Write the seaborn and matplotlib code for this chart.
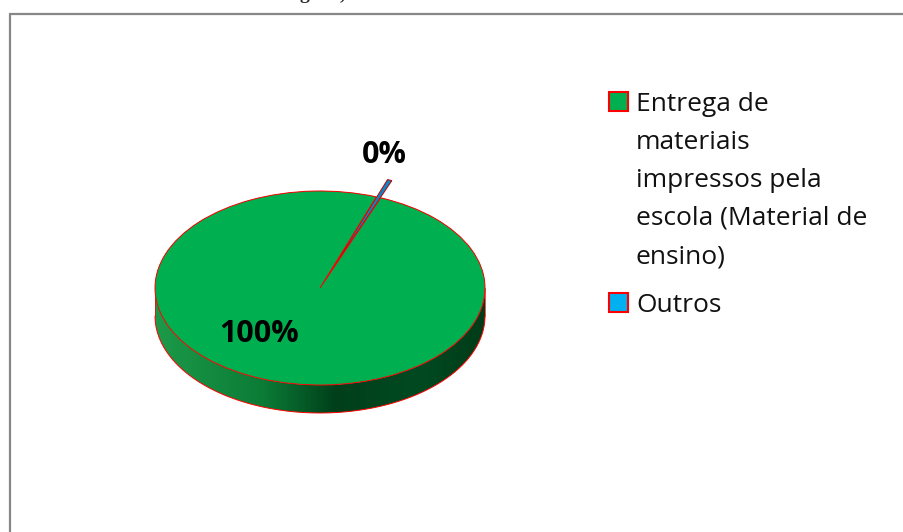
import numpy as np
import matplotlib
matplotlib.use("Agg")
import matplotlib.pyplot as plt
import seaborn as sns
from matplotlib.colors import LinearSegmentedColormap
from matplotlib.patches import Polygon, Rectangle, Circle
from matplotlib.lines import Line2D
from matplotlib.path import Path

# ---------------- data ----------------
categories = ["Entrega de materiais impressos pela escola (Material de ensino)", "Outros"]
legend_lines = [["Entrega de", "materiais", "impressos pela", "escola (Material de", "ensino)"],
                ["Outros"]]
values = [99.55, 0.45]
pct_labels = [f"{round(v)}%" for v in values]
colors = ["#00B050", "#00B0F0"]

# ---------------- style ----------------
sns.set_theme(style="white")
plt.rcParams['font.family'] = ['Open Sans', 'DejaVu Sans']

W, H = 904, 532
fig = plt.figure(figsize=(W / 100, H / 100), dpi=100)
fig.patch.set_facecolor('white')

cx, cy = 320, 288      # pie centre in pixels (from top-left)
a, b = 165, 97         # ellipse semi-axes in pixels
depth = 28 / b

ax = fig.add_axes([0, 0, 1, 1])

wedges, _ = ax.pie(values, colors=colors, startangle=68.4, counterclock=False,
                   explode=[0, 0.19], radius=1, center=(0, 0),
                   wedgeprops=dict(edgecolor='#FF0000', linewidth=0.7))
wedges[0].set_zorder(2)
wedges[1].set_zorder(1.9)
wedges[1].set_edgecolor('#C00000')
wedges[1].set_facecolor('#0a86c8')

# top surface of the disc (under the wedges)
ax.add_patch(Circle((0, 0), 1, facecolor=colors[0], edgecolor='none', zorder=1.8))

# only the part of the exploded small slice beyond the disc edge is visible
th = np.linspace(0, -2 * np.pi, 200)
outer = [(-5, -5), (5, -5), (5, 5), (-5, 5), (-5, -5)]
verts = outer + list(zip(np.cos(th), np.sin(th)))
codes = ([Path.MOVETO] + [Path.LINETO] * 3 + [Path.CLOSEPOLY]
         + [Path.MOVETO] + [Path.LINETO] * (len(th) - 2) + [Path.CLOSEPOLY])
hole_path = Path(verts, codes)
wedges[1].set_clip_path(hole_path, ax.transData)

# side of the 3D disc with gradient
side_cmap = LinearSegmentedColormap.from_list(
    "side", [(0.0, "#1c9a49"), (0.33, "#0b7b36"), (0.55, "#003f1a"),
             (0.8, "#004a21"), (1.0, "#003c18")])
t = np.linspace(np.pi, 2 * np.pi, 300)
top = np.c_[np.cos(t), np.sin(t)]
bot = np.c_[np.cos(t[::-1]), np.sin(t[::-1]) - depth]
poly = Polygon(np.vstack([top, bot]), closed=True, facecolor='none', edgecolor='none')
ax.add_patch(poly)
grad = np.linspace(0, 1, 256).reshape(1, -1)
im = ax.imshow(grad, cmap=side_cmap, extent=[-1, 1, -1 - depth, 0],
               aspect='auto', zorder=1, interpolation='bicubic')
im.set_clip_path(poly)
ax.plot(np.cos(t), np.sin(t) - depth, color='#FF0000', lw=0.7, zorder=1.2)
ax.plot([-1, -1], [0, -depth], color='#FF0000', lw=0.5, zorder=1.2)
ax.plot([1, 1], [0, -depth], color='#FF0000', lw=0.5, zorder=1.2)

# percentage labels
ax.text(-0.37, -0.475, pct_labels[0], ha='center', va='center', fontsize=22,
        fontweight='bold', color='black', zorder=5)
ax.text(0.39, 1.37, pct_labels[1], ha='center', va='center', fontsize=22,
        fontweight='bold', color='black', zorder=5)

ax.set_aspect('auto')
ax.set_xlim(-cx / a, (W - cx) / a)
ax.set_ylim(-(H - cy) / b, cy / b)
ax.axis('off')

# ---------------- legend (manual) ----------------
def fx(px):
    return px / W

def fy(py):
    return 1 - py / H

marker_tops = [92, 293]
line_baselines = [[111, 149, 187, 225, 263], [312]]
for i, col in enumerate(colors):
    fig.add_artist(Rectangle((fx(609), fy(marker_tops[i] + 19)), 19 / W, 19 / H,
                             transform=fig.transFigure, facecolor=col,
                             edgecolor='#FF0000', lw=1.5))
    for line, bl in zip(legend_lines[i], line_baselines[i]):
        fig.text(fx(636), fy(bl), line, ha='left', va='baseline',
                 fontsize=19, color='#111111')

# ---------------- chart border ----------------
fig.add_artist(Line2D([fx(10), fx(10)], [0, fy(14)], color='#878787', lw=1.6,
                      transform=fig.transFigure))
fig.add_artist(Line2D([fx(10), 1], [fy(14), fy(14)], color='#878787', lw=1.6,
                      transform=fig.transFigure))

# cut caption fragment at the very top (as in the reference)
fig.text(fx(300), fy(-1), "g", family=['Liberation Serif'], fontweight='bold',
         fontsize=14, va='baseline', ha='left')
fig.text(fx(340), fy(-1), ",", family=['Liberation Serif'], fontweight='bold',
         fontsize=14, va='baseline', ha='left')

fig.savefig("out.png", dpi=100)
